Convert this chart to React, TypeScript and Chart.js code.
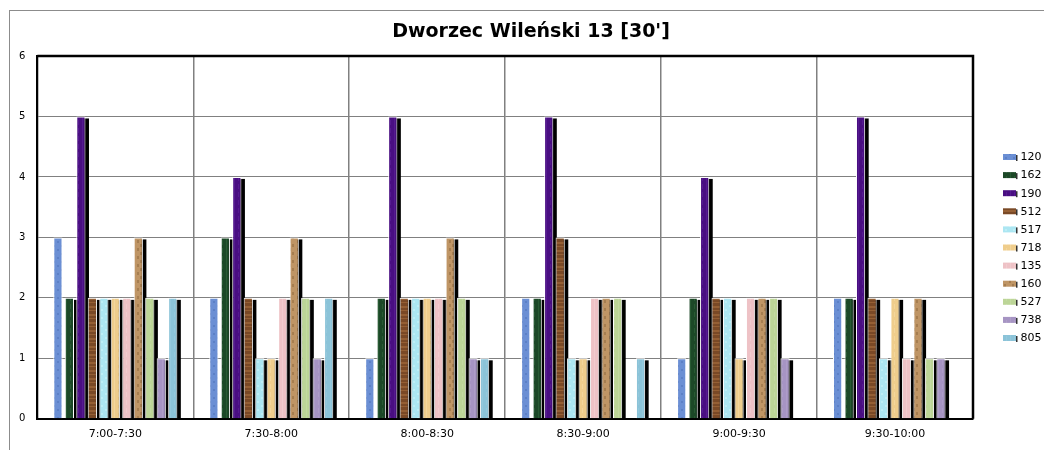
import React, { useEffect, useRef } from "react";
import { Chart, registerables } from "chart.js";

Chart.register(...registerables);

const title = "Dworzec Wileński 13 [30']";
const categories = ["7:00-7:30", "7:30-8:00", "8:00-8:30", "8:30-9:00", "9:00-9:30", "9:30-10:00"];
const seriesNames = ["120", "162", "190", "512", "517", "718", "135", "160", "527", "738", "805"];

const s120 = [3, 2, 1, 2, 1, 2];
const s162 = [2, 3, 2, 2, 2, 2];
const s190 = [5, 4, 5, 5, 4, 5];
const s512 = [2, 2, 2, 3, 2, 2];
const s517 = [2, 1, 2, 1, 2, 1];
const s718 = [2, 1, 2, 1, 1, 2];
const s135 = [2, 2, 2, 2, 2, 1];
const s160 = [3, 3, 3, 2, 2, 2];
const s527 = [2, 2, 2, 2, 2, 1];
const s738 = [1, 1, 1, 0, 1, 1];
const s805 = [2, 2, 1, 1, 0, 0];
const seriesValues = [s120, s162, s190, s512, s517, s718, s135, s160, s527, s738, s805];

const yTicks = [0, 1, 2, 3, 4, 5, 6];

// base colour + texture colour + texture kind
const textures: [string, string, string][] = [
  ["#6b8fd4", "#5c80c6", "dots"],
  ["#1c4827", "#285a33", "vstreak"],
  ["#490e82", "#551a90", "vstreak"],
  ["#7a4926", "#955f34", "hstripe"],
  ["#ace6f2", "#bdeef6", "dots"],
  ["#efcd8c", "#f3d69c", "vstreak"],
  ["#eec2c6", "#f1cbce", "vstreak"],
  ["#bf9565", "#a67e50", "wave"],
  ["#bcd597", "#c3daa1", "vstreak"],
  ["#a694c3", "#ae9dc8", "vstreak"],
  ["#8bc3d8", "#94c8dc", "vstreak"],
];

function makePattern(base: string, alt: string, kind: string): CanvasPattern | string {
  const c = document.createElement("canvas");
  c.width = 8;
  c.height = 8;
  const g = c.getContext("2d");
  if (!g) return base;
  g.fillStyle = base;
  g.fillRect(0, 0, 8, 8);
  g.fillStyle = alt;
  if (kind === "dots") {
    g.fillRect(1, 1, 2, 2);
    g.fillRect(5, 5, 2, 2);
  } else if (kind === "hstripe") {
    g.fillRect(0, 2, 8, 2);
    g.fillRect(0, 6, 8, 1);
  } else if (kind === "wave") {
    g.fillRect(1, 0, 2, 3);
    g.fillRect(4, 4, 2, 3);
  } else {
    g.fillRect(2, 0, 1, 8);
    g.fillRect(6, 0, 1, 5);
  }
  const p = g.createPattern(c, "repeat");
  return p || base;
}

const shadowPlugin = {
  id: "barShadow",
  beforeDatasetsDraw(chart: any) {
    const { ctx, chartArea } = chart;
    ctx.save();
    ctx.beginPath();
    ctx.rect(chartArea.left, chartArea.top, chartArea.right - chartArea.left, chartArea.bottom - chartArea.top);
    ctx.clip();
    ctx.fillStyle = "#000000";
    chart.data.datasets.forEach((ds: any, i: number) => {
      if (i === 0) return;
      const meta = chart.getDatasetMeta(i);
      meta.data.forEach((el: any, j: number) => {
        const v = ds.data[j];
        if (!v) return;
        const w = el.width;
        ctx.fillRect(el.x - w / 2 + 3.5, el.y + 2, w, el.base - el.y);
      });
    });
    ctx.restore();
  },
  afterDraw(chart: any) {
    const { ctx, chartArea } = chart;
    ctx.save();
    ctx.strokeStyle = "#000000";
    ctx.lineWidth = 2.5;
    ctx.beginPath();
    ctx.moveTo(chartArea.left, chartArea.top);
    ctx.lineTo(chartArea.right, chartArea.top);
    ctx.lineTo(chartArea.right, chartArea.bottom);
    ctx.stroke();

    // title, centred on the whole frame
    ctx.font = "bold 19px 'DejaVu Sans', Verdana, sans-serif";
    ctx.textAlign = "center";
    ctx.textBaseline = "middle";
    ctx.fillStyle = "#000000";
    ctx.fillText(title, 531, 32);

    // legend on the right
    const x0 = 1003;
    const y0 = 157;
    const step = 18.1;
    ctx.font = "11px 'DejaVu Sans', Verdana, sans-serif";
    ctx.textBaseline = "middle";
    ctx.textAlign = "left";
    chart.data.datasets.forEach((ds: any, i: number) => {
      const y = y0 + i * step;
      ctx.fillStyle = ds.backgroundColor;
      ctx.fillRect(x0, y - 3, 13, 6);
      ctx.fillStyle = "#333333";
      ctx.fillRect(x0 + 13, y - 2, 1.5, 6);
      ctx.fillStyle = "#000000";
      ctx.fillText(ds.label, x0 + 17.5, y + 0.5);
    });
    ctx.restore();
  },
};

export default function App() {
  const ref = useRef<HTMLCanvasElement | null>(null);

  useEffect(() => {
    if (!ref.current) return;
    Chart.defaults.font.family = "'DejaVu Sans', Verdana, sans-serif";
    Chart.defaults.color = "#000000";
    const datasets = seriesNames.map((name, i) => {
      const [b, a, k] = textures[i];
      return {
        label: name,
        data: seriesValues[i],
        backgroundColor: makePattern(b, a, k),
        borderColor: "#ffffff",
        borderWidth: 1,
        borderSkipped: "bottom",
        categoryPercentage: 0.81,
        barPercentage: 0.8,
      };
    });
    const chart = new Chart(ref.current, {
      type: "bar",
      data: { labels: categories, datasets: datasets as any },
      options: {
        responsive: false,
        animation: false,
        layout: { padding: { left: 7, right: 71, top: 56, bottom: 0 } },
        plugins: {
          title: { display: false },
          legend: { display: false },
          tooltip: { enabled: false },
        },
        scales: {
          x: {
            offset: true,
            grid: { offset: true, color: "#808080", lineWidth: 1.5, drawTicks: false },
            border: { display: true, color: "#000000", width: 2 },
            ticks: { padding: 9, font: { size: 11 }, color: "#000000" },
          },
          y: {
            min: 0,
            max: 6,
            afterBuildTicks: (axis: any) => {
              axis.ticks = yTicks.map((v) => ({ value: v }));
            },
            grid: { color: "#808080", lineWidth: 1, drawTicks: false },
            border: { display: true, color: "#000000", width: 2 },
            ticks: { padding: 12, font: { size: 10 }, color: "#000000" },
          },
        },
      },
      plugins: [shadowPlugin],
    });
    return () => chart.destroy();
  }, []);

  return (
    <div style={{ position: "fixed", left: 0, top: 0, width: 1044, height: 450, overflow: "hidden", background: "#ffffff" }}>
      <div
        style={{
          position: "absolute",
          left: 9,
          top: 10,
          width: 1200,
          height: 600,
          borderLeft: "1.5px solid #8c8c8c",
          borderTop: "1.5px solid #8c8c8c",
        }}
      />
      <canvas ref={ref} width={1044} height={450} style={{ position: "absolute", left: 0, top: 0 }} />
    </div>
  );
}
